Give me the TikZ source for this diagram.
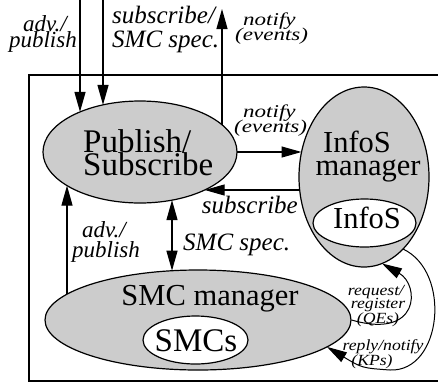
\documentclass[tikz,border=0pt]{standalone}
\usepackage{fontspec}
\setmainfont{Liberation Serif}
\newfontfamily\widefont[FakeStretch=1.28]{Liberation Serif}
\newfontfamily\semiwidefont[FakeStretch=1.14]{Liberation Serif}
\usetikzlibrary{arrows.meta,shapes.geometric}
\definecolor{blobgray}{gray}{0.8}

\tikzset{
  blob/.style={ellipse, draw, line width=1.2pt, fill=blobgray, inner sep=0pt},
  hole/.style={ellipse, draw, line width=1.2pt, fill=white, inner sep=0pt},
  bigtext/.style={font=\fontsize{33}{33}\selectfont, inner sep=0pt, anchor=base},
  midtext/.style={font=\fontsize{30.5}{30.5}\selectfont, inner sep=0pt, anchor=base},
  lbl/.style={font=\fontsize{23}{23}\selectfont\itshape, inner sep=0pt},
  lblbig/.style={font=\fontsize{25}{25}\selectfont\itshape, inner sep=0pt},
  lblwide/.style={font=\widefont\fontsize{18}{18}\selectfont\itshape, inner sep=0pt},
  lblsmall/.style={font=\semiwidefont\fontsize{15.5}{15.5}\selectfont\itshape, inner sep=0pt},
  flow/.style={line width=1.2pt, -{Triangle[length=20pt,width=11pt]}},
  loopflow/.style={line width=1pt, -{Triangle[length=20pt,width=11pt]}},
  frame/.style={line width=1.4pt},
}

\begin{document}
\begin{tikzpicture}[x=1pt, y=-1pt]
  \useasboundingbox (0,0) rectangle (438,386);

  % enclosing system boundary
  \draw[frame] (29,75) rectangle (460,381);

  % components
  \node[blob, minimum width=194pt, minimum height=102pt] (ps) at (140,152) {};
  \node[blob, minimum width=130pt, minimum height=180pt] (infomgr) at (364,177) {};
  \node[hole, minimum width=103pt, minimum height=48pt] (infos) at (364.5,223) {};
  \node[blob, minimum width=306pt, minimum height=100pt] (smcmgr) at (198,320) {};
  \node[hole, minimum width=105pt, minimum height=48pt] (smcs) at (195.5,340) {};

  % component names
  \node[bigtext, anchor=base west] (psA) at (83,152) {Publish/};
  \node[bigtext, anchor=base west] (psB) at (83,175) {Subscribe};
  \node[midtext] (imA) at (357,152) {InfoS};
  \node[midtext] (imB) at (368,175) {manager};
  \node[midtext] (infosT) at (367,228) {InfoS};
  \node[midtext] (smA) at (210,305) {SMC manager};
  \node[bigtext] (smcsT) at (196,351) {SMCs};

  % border points of the ellipses
  \coordinate (inA) at (80,-2);
  \coordinate (inAend) at (80,111.9);
  \coordinate (inB) at (103,-2);
  \coordinate (inBend) at (103,104.9);
  \coordinate (outC) at (222,124.8);
  \coordinate (outCend) at (222,9);
  \coordinate (psR) at (237,152);
  \coordinate (imL) at (301.5,152);
  \coordinate (imL2) at (299.7,190);
  \coordinate (psR2) at (204.7,190);
  \coordinate (psBL) at (67,185.6);
  \coordinate (smTL) at (67,294.2);
  \coordinate (psB172) at (172,200.1);
  \coordinate (smT172) at (172,270.7);
  \coordinate (imBot) at (382,263.5);
  \coordinate (imBR) at (403,249);
  \coordinate (smBR) at (327,346.9);

  % connectors
  \draw[flow] (inA) -- (inAend);
  \draw[flow] (inB) -- (inBend);
  \draw[flow] (outC) -- (outCend);
  \draw[flow] (psR) -- (imL);
  \draw[flow] (imL2) -- (psR2);
  \draw[flow] (smTL) -- (psBL);
  \draw[line width=1.2pt, {Triangle[length=20pt,width=11pt]}-{Triangle[length=20pt,width=11pt]}] (psB172) -- (smT172);
  \draw[loopflow] (smcmgr.east) .. controls (420,340) and (420,285) .. (imBot);
  \draw[loopflow] (imBR) .. controls (452,272) and (442,372) .. (390,370) .. controls (362,368) .. (smBR);

  % connector labels
  \node[lbl, anchor=base east] (l1a) at (67,31) {adv./};
  \node[lbl, anchor=base east] (l1b) at (77,47) {publish};
  \node[lblbig, anchor=base west] (l2a) at (112,23) {subscribe/};
  \node[lblbig, anchor=base west] (l2b) at (112,47) {SMC spec.};
  \node[lblwide, anchor=base west] (l3a) at (243,25) {notify};
  \node[lblwide, anchor=base west] (l3b) at (235,40) {(events)};
  \node[lblwide, anchor=base west] (l4a) at (243,117) {notify};
  \node[lblwide, anchor=base west] (l4b) at (234,132) {(events)};
  \node[lblbig, anchor=base east] (l5) at (298,213) {subscribe};
  \node[lblbig, anchor=base west] (l6) at (183,250) {SMC spec.};
  \node[lbl, anchor=base west] (l7a) at (82,237) {adv./};
  \node[lbl, anchor=base west] (l7b) at (72,257) {publish};
  \node[lblsmall, anchor=base] (l8a) at (376,295) {request/};
  \node[lblsmall, anchor=base] (l8b) at (378,308) {register};
  \node[lblsmall, anchor=base] (l8c) at (378,323) {(QEs)};
  \node[lblsmall, anchor=base] (l9a) at (383,350) {reply/notify};
  \node[lblsmall, anchor=base] (l9b) at (372,365) {(KPs)};
\end{tikzpicture}
\end{document}
